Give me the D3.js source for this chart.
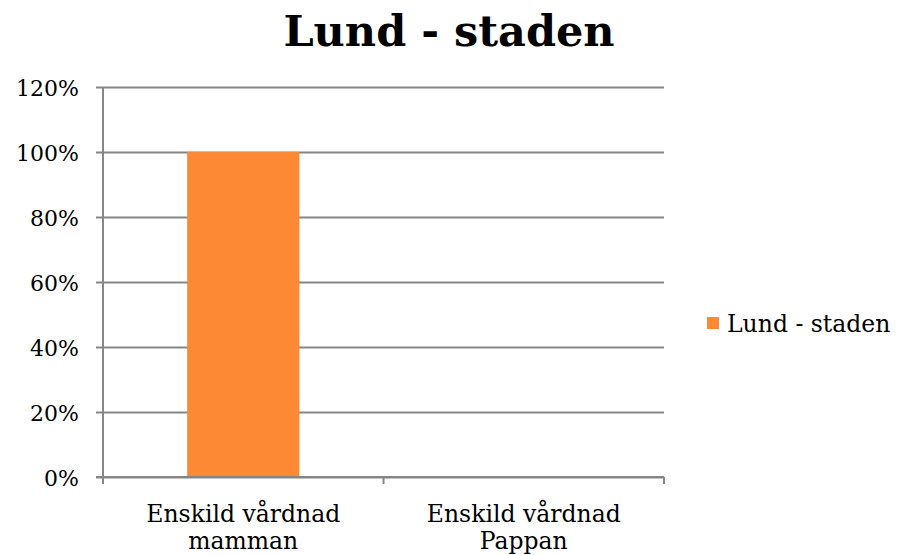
<!DOCTYPE html>
<html><head><meta charset="utf-8">
<script src="https://cdn.jsdelivr.net/npm/d3@7"></script>
<style>
html,body{margin:0;padding:0;background:#fff;}
svg text{font-family:"DejaVu Serif",serif;fill:#000;}
</style></head>
<body>
<svg id="chart" width="899" height="555"></svg>
<script>
const title = "Lund - staden";
const categories = [["Enskild vårdnad","mamman"],["Enskild vårdnad","Pappan"]];
const seriesName = "Lund - staden";
const values = [1.0, 0];
const yTicks = [0, 0.2, 0.4, 0.6, 0.8, 1.0, 1.2];

(function(){
const svg = d3.select("#chart");
const pL = 103, pR = 664, pT = 87, pB = 477;
const gridColor = "#868686";
const barColor = "#FE8935";

const keys = categories.map(c => c.join(" "));
const x = d3.scaleBand().domain(keys).range([pL, pR]).paddingInner(0.6).paddingOuter(0.3);
const y = d3.scaleLinear().domain([0, 1.2]).range([pB, pT]);

// gridlines + y ticks
const yAxis = d3.axisLeft(y).tickValues(yTicks).tickFormat(d3.format(".0%"))
  .tickSize(0).tickPadding(24);
const gy = svg.append("g").attr("transform", `translate(${pL},0)`).call(yAxis);
gy.select(".domain").remove();
gy.selectAll(".tick line").attr("x1", -7).attr("x2", pR - pL).attr("stroke", gridColor).attr("stroke-width", 2);
gy.selectAll(".tick text").style("font-size", "22px").attr("dy", "0.38em").attr("fill", "#000");

// y axis line
svg.append("line").attr("x1", pL).attr("x2", pL).attr("y1", pT).attr("y2", pB)
  .attr("stroke", gridColor).attr("stroke-width", 2);

// bars
svg.append("g").selectAll("rect").data(values).join("rect")
  .attr("x", (d, i) => x(keys[i]))
  .attr("width", x.bandwidth())
  .attr("y", d => y(d))
  .attr("height", d => y(0) - y(d))
  .attr("fill", barColor);

// x axis baseline & category separator ticks
svg.append("line").attr("x1", pL - 7).attr("x2", pR).attr("y1", y(0)).attr("y2", y(0))
  .attr("stroke", gridColor).attr("stroke-width", 2);
const seg = (pR - pL) / keys.length;
const bounds = d3.range(keys.length + 1).map(i => pL + i * seg);
svg.append("g").selectAll("line").data(bounds).join("line")
  .attr("x1", d => d).attr("x2", d => d).attr("y1", y(0)).attr("y2", y(0) + 7)
  .attr("stroke", gridColor).attr("stroke-width", 2);

// category labels
const cl = svg.append("g").selectAll("text").data(categories).join("text")
  .attr("text-anchor", "middle").style("font-size", "23.5px");
cl.each(function(d, i) {
  const t = d3.select(this);
  const cx = x(keys[i]) + x.bandwidth() / 2;
  d.forEach((line, j) => {
    t.append("tspan").attr("x", cx).attr("y", 522 + j * 27).text(line);
  });
});

// title
svg.append("text").attr("x", 449).attr("y", 46).attr("text-anchor", "middle")
  .style("font-size", "43px").style("font-weight", "bold").text(title);

// legend
svg.append("rect").attr("x", 707).attr("y", 317).attr("width", 12).attr("height", 12).attr("fill", barColor);
svg.append("text").attr("x", 727).attr("y", 332).style("font-size", "23.5px").text(seriesName);
})();
</script>
</body></html>
